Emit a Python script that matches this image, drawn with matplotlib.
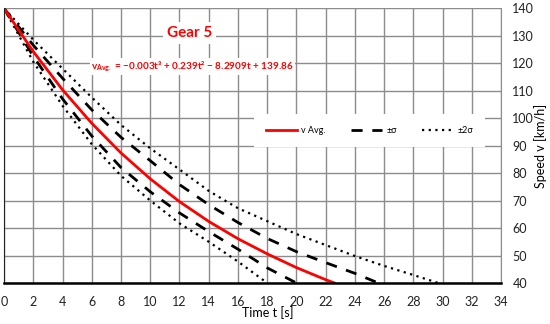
import matplotlib
matplotlib.use("Agg")
import matplotlib.pyplot as plt

plt.rcParams['font.family'] = ['Lato', 'DejaVu Sans']
plt.rcParams['mathtext.default'] = 'regular'

# Values (time in s, speed in km/h)
t_avg = [0, 2, 4, 6, 8, 10, 12, 14, 16, 18, 20, 22, 22.6]
v_avg = [139.9, 124.2, 110.3, 98.1, 87.3, 77.9, 69.6, 62.4, 56.1, 50.6, 45.6, 41.2, 40.0]

t_up1 = [0, 2, 4, 6, 8, 10, 12, 14, 16, 18, 20, 22, 24, 25.6]
v_up1 = [139.9, 126.5, 114.5, 103.0, 93.0, 84.5, 75.8, 68.5, 62.0, 56.2, 51.4, 47.4, 43.5, 40.0]

t_lo1 = [0, 2, 4, 6, 8, 10, 12, 14, 16, 18, 20]
v_lo1 = [139.9, 122.5, 107.0, 93.5, 82.0, 73.2, 65.5, 58.7, 52.3, 45.5, 40.0]

t_up2 = [0, 2, 4, 6, 8, 10, 12, 14, 16, 18, 20, 22, 24, 26, 28, 29.7]
v_up2 = [139.9, 128.5, 118.0, 107.5, 97.5, 89.0, 81.3, 73.5, 67.2, 62.5, 57.8, 53.8, 49.8, 46.2, 42.9, 40.0]

t_lo2 = [0, 2, 4, 6, 8, 10, 12, 14, 16, 18]
v_lo2 = [139.9, 120.5, 104.5, 90.5, 79.0, 70.0, 61.7, 55.0, 47.8, 40.0]

x_ticks = list(range(0, 35, 2))
y_ticks = list(range(40, 141, 10))

fig = plt.figure(figsize=(5.5, 3.24), dpi=100)
ax = fig.add_axes([0.0073, 0.1265, 0.904, 0.8485])

ax.plot(t_up2, v_up2, color='black', lw=1.6, ls=(0, (1, 2)), label='±2σ')
ax.plot(t_lo2, v_lo2, color='black', lw=1.6, ls=(0, (1, 2)))
ax.plot(t_up1, v_up1, color='black', lw=2.0, ls=(0, (4, 3.5)), label='±σ')
ax.plot(t_lo1, v_lo1, color='black', lw=2.0, ls=(0, (4, 3.5)))
ax.plot(t_avg, v_avg, color='#ff0000', lw=2.0, label='v Avg.')

ax.set_xlim(0, 34)
ax.set_ylim(40, 140)
ax.set_xticks(x_ticks)
ax.set_yticks(y_ticks)
ax.grid(True, color='#8c8c8c', lw=1.0)
ax.set_axisbelow(True)

ax.yaxis.tick_right()
ax.yaxis.set_label_position('right')
ax.tick_params(axis='both', length=0, labelsize=9, colors='#222222')
ax.tick_params(axis='x', pad=9)
ax.tick_params(axis='y', pad=8)

ax.spines['top'].set_visible(False)
ax.spines['left'].set_color('#222222')
ax.spines['right'].set_color('#8c8c8c')
ax.spines['bottom'].set_color('black')
ax.spines['bottom'].set_linewidth(1.8)

ax.set_xlabel('Time t [s]', fontsize=9)
ax.xaxis.set_label_coords(0.53, -0.085)
ax.set_ylabel('Speed v [km/h]', fontsize=9)
ax.yaxis.set_label_coords(1.065, 0.5)

ax.text(12.7, 130.9, 'Gear 5', color='#ff0000', fontsize=11, fontweight='bold',
        ha='center', va='center',
        bbox=dict(facecolor='white', edgecolor='none', pad=3))
ax.text(12.9, 118.6,
        r'v$_{Avg.}$ = −0.003t³ + 0.239t² − 8.2909t + 139.86',
        color='#ff0000', fontsize=7.2, fontweight='bold', ha='center', va='center',
        bbox=dict(facecolor='white', edgecolor='none', pad=1))

handles, labels = ax.get_legend_handles_labels()
order = [2, 1, 0]
leg = ax.legend([handles[i] for i in order], [labels[i] for i in order],
                loc='center', bbox_to_anchor=(0.735, 0.555), ncol=3,
                fontsize=6.5, frameon=True, fancybox=False, handlelength=3.4,
                columnspacing=2.8, handletextpad=0.5, borderpad=1.3)
leg.get_frame().set_edgecolor('none')
leg.get_frame().set_facecolor('white')
leg.get_frame().set_alpha(1)

fig.savefig('out.png', dpi=100)
